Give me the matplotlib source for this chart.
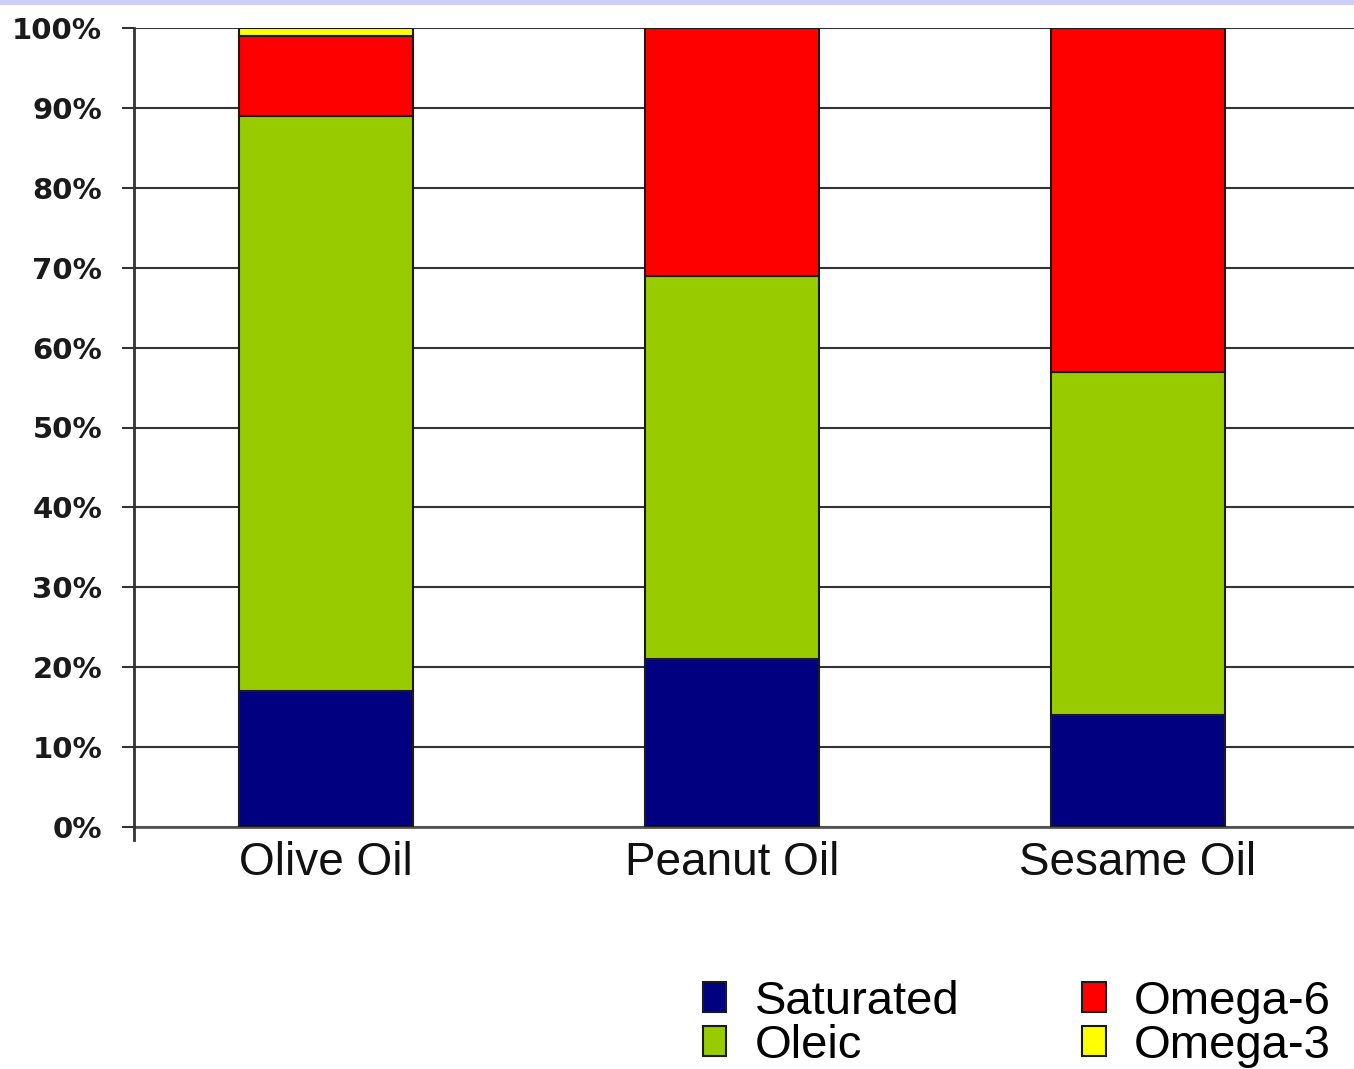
import matplotlib
matplotlib.use("Agg")
import matplotlib.pyplot as plt
import numpy as np
from matplotlib.patches import Rectangle

plt.rcParams['font.family'] = ['Liberation Sans', 'DejaVu Sans']

categories = ["Olive Oil", "Peanut Oil", "Sesame Oil"]
series_names = ["Saturated", "Oleic", "Omega-6", "Omega-3"]
saturated = [17, 21, 14]
oleic = [72, 48, 43]
omega6 = [10, 31, 43]
omega3 = [1, 0, 0]
colors = ["#000080", "#99CC00", "#FF0000", "#FFFF00"]
y_ticks = [0, 10, 20, 30, 40, 50, 60, 70, 80, 90, 100]

W, H = 1354, 1069
fig = plt.figure(figsize=(W / 100, H / 100), dpi=100)
fig.patch.set_facecolor("white")

# thin lavender band across the top edge
fig.add_artist(Rectangle((0, 1 - 5 / H), 1, 5 / H, transform=fig.transFigure,
                         facecolor="#CCCCFF", edgecolor="none", zorder=0))

ax = fig.add_axes([134 / W, (H - 827) / H, 1 - 134 / W, (827 - 28) / H])
ax.set_facecolor("white")

x = np.arange(len(categories))
series = [saturated, oleic, omega6, omega3]
bottom = np.zeros(len(categories))
for name, vals, col in zip(series_names, series, colors):
    vals = np.array(vals, dtype=float)
    ax.bar(x, vals, bottom=bottom, width=0.43, color=col, edgecolor="#1a1a1a",
           linewidth=1.5, label=name, zorder=3)
    bottom += vals

ax.set_xlim(-0.473, 2.532)
ax.set_ylim(0, 100)

ax.set_yticks(y_ticks)
ax.set_yticklabels([f"{v}%" for v in y_ticks], fontsize=21, fontweight="bold",
                   color="#1a1a1a", family="DejaVu Sans")
ax.yaxis.grid(True, color="#333333", linewidth=1.5, zorder=1)
ax.tick_params(axis="y", length=9, width=1.5, color="#333333", pad=14)

ax.set_xticks(x)
ax.set_xticklabels(categories, fontsize=33, color="#111111")
ax.tick_params(axis="x", length=0, pad=10)

for s in ["top", "right", "bottom"]:
    ax.spines[s].set_visible(False)
ax.spines["left"].set_color("#333333")
ax.spines["left"].set_linewidth(2)
ax.spines["left"].set_bounds(-1.6, 100)
ax.axhline(0, color="#555555", linewidth=2, zorder=2, clip_on=False)

handles, labels = ax.get_legend_handles_labels()
leg = fig.legend(handles, labels, loc="center", ncol=2,
                 bbox_to_anchor=(1017 / W, 1 - 1024 / H),
                 frameon=False, fontsize=34, handlelength=0.5, handleheight=0.6,
                 handletextpad=0.6, columnspacing=2.6, labelspacing=0.0,
                 borderaxespad=0)

fig.savefig("out.png", dpi=100, facecolor="white")
